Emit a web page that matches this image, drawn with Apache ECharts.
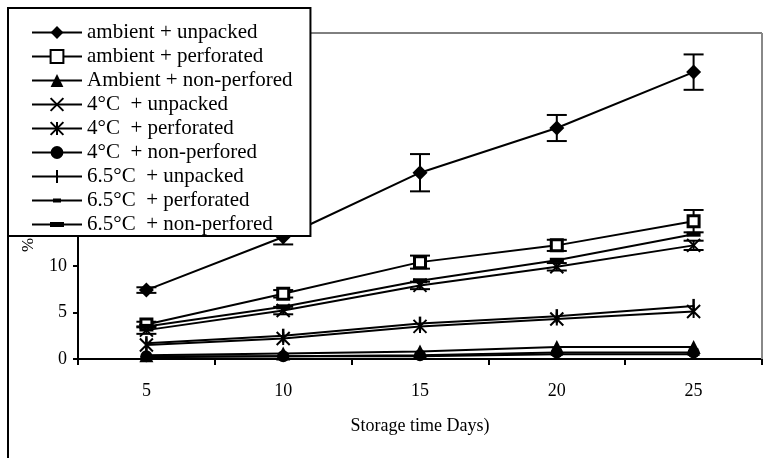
<!DOCTYPE html>
<html><head><meta charset="utf-8">
<script src="https://cdn.jsdelivr.net/npm/echarts@6/dist/echarts.min.js"></script>
<style>html,body{margin:0;padding:0;background:#fff}#c{width:777px;height:458px}</style>
</head><body><div id="c"></div>
<script>
var categories = ['5', '10', '15', '20', '25'];
var yTicks = [0, 5, 10, 15, 20, 25, 30, 35];

var ambientUnpacked = [7.4, 13.1, 20.0, 24.8, 30.8];
var ambientUnpackedErr = [0.3, 0.8, 2.0, 1.4, 1.9];
var ambientPerforated = [3.7, 7.0, 10.4, 12.2, 14.8];
var ambientPerforatedErr = [0.3, 0.4, 0.7, 0.6, 1.2];
var ambientNonPerfored = [0.4, 0.6, 0.8, 1.3, 1.3];
var c4Unpacked = [3.1, 5.2, 7.9, 9.9, 12.2];
var c4UnpackedErr = [0.4, 0.4, 0.4, 0.4, 0.5];
var c4Perforated = [1.5, 2.2, 3.5, 4.3, 5.1];
var c4NonPerfored = [0.3, 0.3, 0.4, 0.7, 0.7];
var c65Unpacked = [1.7, 2.5, 3.8, 4.6, 5.7];
var c65Perforated = [0.2, 0.3, 0.3, 0.5, 0.5];
var c65NonPerfored = [3.5, 5.6, 8.4, 10.6, 13.4];

var names = ['ambient + unpacked', 'ambient + perforated', 'Ambient + non-perfored',
  '4°C  + unpacked', '4°C  + perforated', '4°C  + non-perfored',
  '6.5°C  + unpacked', '6.5°C  + perforated', '6.5°C  + non-perfored'];

var FONT = '"Liberation Serif", "Times New Roman", serif';

// legend icons (line + marker) for the three 6.5°C entries
var iconTick = 'path://M0,5.5L24,5.5L24,0L26,0L26,5.5L50,5.5L50,7.5L26,7.5L26,13L24,13L24,7.5L0,7.5Z';
var iconDashThin = 'path://M0,1L21,1L21,0L29,0L29,1L50,1L50,3L29,3L29,4L21,4L21,3L0,3Z';
var iconDashThick = 'path://M0,1.5L18,1.5L18,0L32,0L32,1.5L50,1.5L50,3.5L32,3.5L32,5L18,5L18,3.5L0,3.5Z';

var legendData = names.map(function (n, i) {
  if (i === 6) return {name: n, icon: iconTick};
  if (i === 7) return {name: n, icon: iconDashThin};
  if (i === 8) return {name: n, icon: iconDashThick};
  return {name: n};
});

function lineSeries(name, data, symbol, size, opts) {
  opts = opts || {};
  return {
    type: 'line', name: name, data: data, symbol: symbol, symbolSize: size,
    showAllSymbol: true, z: 3,
    lineStyle: {color: '#000', width: 2},
    itemStyle: {color: opts.fill || '#000', borderColor: '#000', borderWidth: opts.bw || 0, opacity: 1}
  };
}

function errSeries(vals, errs) {
  var d = vals.map(function (v, i) { return [i, v - errs[i], v + errs[i]]; });
  return {
    type: 'custom', data: d, z: 2, silent: true,
    renderItem: function (params, api) {
      var x = api.value(0);
      var lo = api.coord([x, api.value(1)]);
      var hi = api.coord([x, api.value(2)]);
      var w = 10;
      var st = {stroke: '#000', lineWidth: 2};
      return {type: 'group', children: [
        {type: 'line', shape: {x1: lo[0], y1: lo[1], x2: hi[0], y2: hi[1]}, style: st},
        {type: 'line', shape: {x1: lo[0] - w, y1: lo[1], x2: lo[0] + w, y2: lo[1]}, style: st},
        {type: 'line', shape: {x1: hi[0] - w, y1: hi[1], x2: hi[0] + w, y2: hi[1]}, style: st}
      ]};
    }
  };
}

var chart = echarts.init(document.getElementById('c'), null, {renderer: 'canvas'});
chart.setOption({
  animation: false,
  backgroundColor: '#fff',
  textStyle: {fontFamily: FONT, color: '#000'},
  grid: {left: 78, right: 15, top: 33, bottom: 99, show: true, borderColor: '#000', borderWidth: 1},
  legend: {
    left: 8, top: 8, orient: 'vertical',
    data: legendData,
    backgroundColor: '#fff', borderColor: '#000', borderWidth: 2,
    padding: [13, 18, 0, 23],
    itemWidth: 50, itemHeight: 16, itemGap: 1,
    textStyle: {fontFamily: FONT, fontSize: 21, color: '#000', lineHeight: 23},
    selectedMode: false, z: 10
  },
  xAxis: {
    type: 'category', data: categories, boundaryGap: true,
    axisLine: {lineStyle: {color: '#000', width: 2}},
    axisTick: {show: true, alignWithLabel: false, length: 6, lineStyle: {color: '#000', width: 2}},
    axisLabel: {fontFamily: FONT, fontSize: 18, color: '#000', margin: 23},
    name: 'Storage time Days)', nameLocation: 'middle', nameGap: 58,
    nameTextStyle: {fontFamily: FONT, fontSize: 18, color: '#000'},
    splitLine: {show: false}
  },
  yAxis: {
    type: 'value', min: yTicks[0], max: yTicks[yTicks.length - 1], interval: 5,
    axisLine: {show: true, lineStyle: {color: '#000', width: 2}},
    axisTick: {show: true, length: 5, lineStyle: {color: '#000', width: 2}},
    axisLabel: {fontFamily: FONT, fontSize: 18, color: '#000', margin: 11},
    splitLine: {show: false}
  },
  graphic: [
    {type: 'line', shape: {x1: 8, y1: 8, x2: 8, y2: 458}, style: {stroke: '#000', lineWidth: 2}, z: 0},
    {type: 'line', shape: {x1: 762, y1: 33, x2: 762, y2: 359}, style: {stroke: '#888', lineWidth: 2}, z: 1},
    {type: 'text', x: 20, y: 252, rotation: Math.PI / 2,
     style: {text: '%', fontFamily: FONT, fontSize: 17, fill: '#000'}, z: 1}
  ],
  series: [
    errSeries(ambientUnpacked, ambientUnpackedErr),
    errSeries(ambientPerforated, ambientPerforatedErr),
    errSeries(c4Unpacked, c4UnpackedErr),
    lineSeries(names[0], ambientUnpacked, 'diamond', 15),
    lineSeries(names[1], ambientPerforated, 'rect', 11, {fill: '#fff', bw: 3}),
    lineSeries(names[2], ambientNonPerfored, 'triangle', 14),
    lineSeries(names[3], c4Unpacked, 'path://M0,0L10,10M10,0L0,10', 13, {fill: 'none', bw: 2}),
    lineSeries(names[4], c4Perforated, 'path://M0,0L10,10M10,0L0,10M5,0L5,10', 13, {fill: 'none', bw: 2}),
    lineSeries(names[5], c4NonPerfored, 'circle', 12),
    lineSeries(names[6], c65Unpacked, 'rect', [2.5, 14]),
    lineSeries(names[7], c65Perforated, 'rect', [12, 3]),
    lineSeries(names[8], c65NonPerfored, 'rect', [14, 5])
  ]
});
</script></body></html>
